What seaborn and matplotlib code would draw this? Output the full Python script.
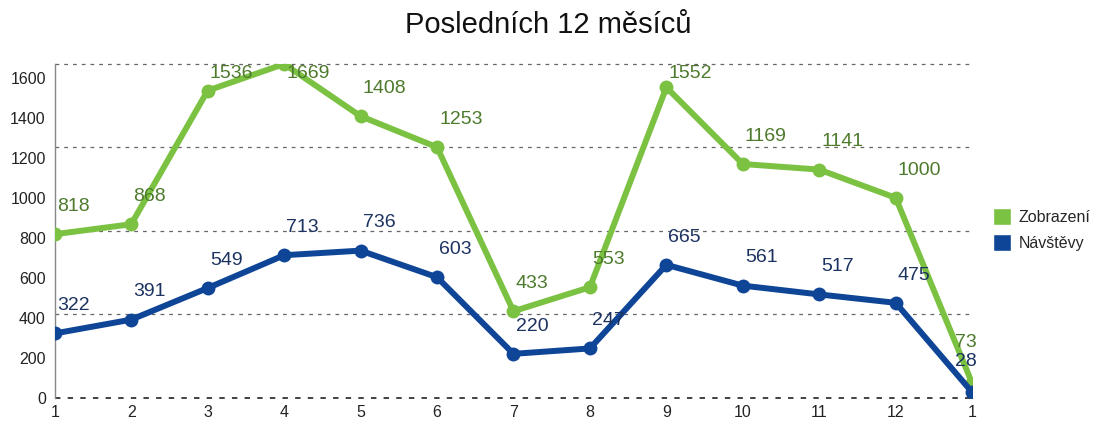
import numpy as np
import pandas as pd
import seaborn as sns
import matplotlib.pyplot as plt
from matplotlib.patches import Patch

mesice = ["1", "2", "3", "4", "5", "6", "7", "8", "9", "10", "11", "12", "1"]
zobrazeni = [818, 868, 1536, 1669, 1408, 1253, 433, 553, 1552, 1169, 1141, 1000, 73]
navstevy = [322, 391, 549, 713, 736, 603, 220, 247, 665, 561, 517, 475, 28]

green = "#7cc242"
blue = "#0f4596"
green_txt = "#4d7a2c"
blue_txt = "#1c3260"

n = len(mesice)
df = pd.DataFrame({
    "idx": list(range(n)) * 2,
    "hodnota": zobrazeni + navstevy,
    "serie": ["Zobrazení"] * n + ["Návštěvy"] * n,
})

sns.set_style("white")
plt.rcParams["font.family"] = ["Liberation Sans", "DejaVu Sans"]

fig = plt.figure(figsize=(10.96, 4.21), dpi=100)
ax = fig.add_axes([0.050, 0.055, 0.837, 0.793])

sns.lineplot(data=df, x="idx", y="hodnota", hue="serie",
             palette={"Zobrazení": green, "Návštěvy": blue},
             linewidth=4.3, marker="o", markersize=10, markeredgewidth=0,
             legend=False, ax=ax, zorder=3)

top = 1669
pt_per_unit = 0.2006 * 0.72  # data unit -> points


def label(i, v, color, z, last_dy):
    if i == n - 1:
        # last point sits on the right edge, text is pushed inside
        ax.annotate(str(v), (i, v), xytext=(3, last_dy), textcoords="offset points",
                    color=color, fontsize=14, ha="right", va="center", zorder=z)
        return
    dy = min(20, (1620 - v) * pt_per_unit)
    ax.annotate(str(v), (i, v), xytext=(1.5, dy), textcoords="offset points",
                color=color, fontsize=14, ha="left", va="center", zorder=z)


for i in range(n):
    label(i, zobrazeni[i], green_txt, 5, 29)
    label(i, navstevy[i], blue_txt, 6, 22)

ax.set_xlim(0, n - 1)
ax.set_ylim(0, top)
ax.set_xticks(range(n))
ax.set_xticklabels(mesice)
ax.set_yticks(range(0, 1601, 200))
for g in np.linspace(0, top, 5):
    col = "#333333" if g == 0 else "#666666"
    lw = 1.3 if g == 0 else 0.9
    ax.axhline(g, color=col, linestyle=(0, (3, 4)), linewidth=lw, zorder=1, clip_on=False)
ax.set_xlabel("")
ax.set_ylabel("")
ax.tick_params(axis="both", labelsize=11.5, colors="#222222", length=3, direction="out")
ax.tick_params(axis="x", length=0, pad=5)
for s in ["top", "right", "bottom"]:
    ax.spines[s].set_visible(False)
ax.spines["left"].set_color("#888888")
ax.spines["left"].set_linewidth(1)

handles = [Patch(facecolor=green, label="Zobrazení"), Patch(facecolor=blue, label="Návštěvy")]
fig.legend(handles=handles, loc="center left", bbox_to_anchor=(0.893, 0.455), frameon=False,
           fontsize=11.5, handlelength=1.1, handleheight=1.3, labelspacing=0.55, handletextpad=0.5)

fig.suptitle("Posledních 12 měsíců", fontsize=21, y=0.975, color="#111111")
fig.savefig("out.png", dpi=100)
